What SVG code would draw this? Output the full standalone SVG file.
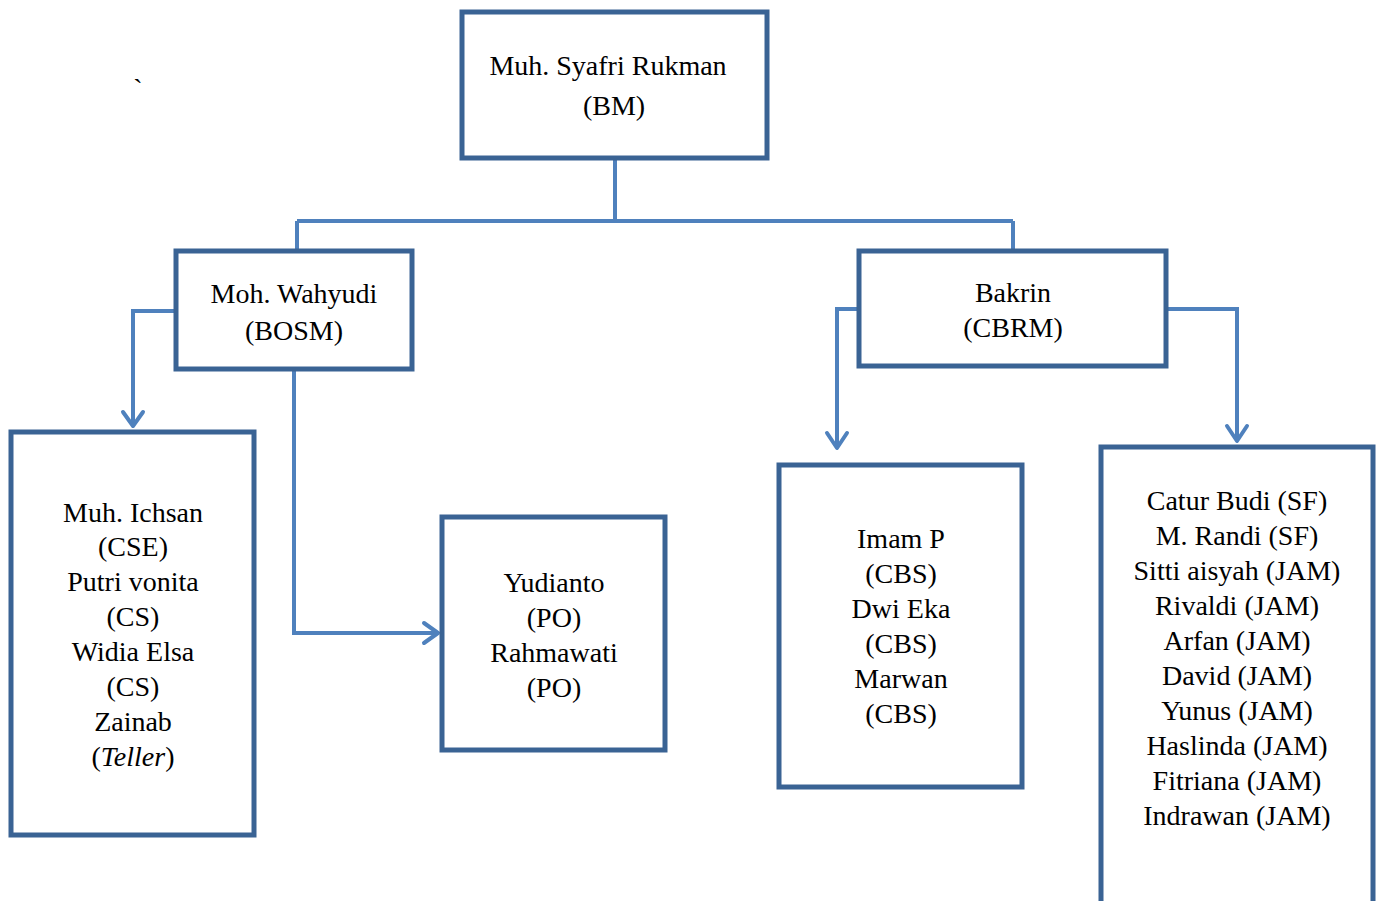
<svg xmlns="http://www.w3.org/2000/svg" width="1381" height="901" viewBox="0 0 1381 901">
<style>
.box{fill:#fff;stroke:#3a6394;stroke-width:5}
.con{fill:none;stroke:#4f81bd;stroke-width:4;stroke-linejoin:miter}
.ah{fill:none;stroke:#4f81bd;stroke-width:4;stroke-linecap:round;stroke-linejoin:round}
text{font-family:"Liberation Serif","Times New Roman",serif;font-size:28px;fill:#000;text-anchor:middle}
</style>
<rect width="1381" height="901" fill="#fff"/>
<text x="138" y="98" font-size="24">`</text>
<g id="connectors">
<path class="con" d="M615 158 V221 M297 221 H1013 M297 221 V251 M1013 221 V251"/>
<path class="con" d="M176 311 H133 V426"/>
<path class="ah" d="M123 412 L133 426 L143 412"/>
<path class="con" d="M294 369 V633 H438"/>
<path class="ah" d="M424 623 L438 633 L424 643"/>
<path class="con" d="M859 309 H837 V448"/>
<path class="ah" d="M827 433 L837 448 L847 433"/>
<path class="con" d="M1166 309 H1237 V441"/>
<path class="ah" d="M1227 426 L1237 441 L1247 426"/>
</g>
<g id="bm">
<rect class="box" x="462" y="12" width="305" height="146"/>
<text x="608" y="75">Muh. Syafri Rukman</text>
<text x="614" y="115">(BM)</text>
</g>
<g id="bosm">
<rect class="box" x="176" y="251" width="236" height="118"/>
<text x="294" y="303">Moh. Wahyudi</text>
<text x="294" y="340">(BOSM)</text>
</g>
<g id="cbrm">
<rect class="box" x="859" y="251" width="307" height="115"/>
<text x="1013" y="302">Bakrin</text>
<text x="1013" y="337">(CBRM)</text>
</g>
<g id="cs">
<rect class="box" x="11" y="432" width="243" height="403"/>
<text x="133" y="522">Muh. Ichsan</text>
<text x="133" y="556">(CSE)</text>
<text x="133" y="591">Putri vonita</text>
<text x="133" y="626">(CS)</text>
<text x="133" y="661">Widia Elsa</text>
<text x="133" y="696">(CS)</text>
<text x="133" y="731">Zainab</text>
<text x="133" y="766">(<tspan font-style="italic">Teller</tspan>)</text>
</g>
<g id="po">
<rect class="box" x="442" y="517" width="223" height="233"/>
<text x="554" y="592">Yudianto</text>
<text x="554" y="627">(PO)</text>
<text x="554" y="662">Rahmawati</text>
<text x="554" y="697">(PO)</text>
</g>
<g id="cbs">
<rect class="box" x="779" y="465" width="243" height="322"/>
<text x="901" y="548">Imam P</text>
<text x="901" y="583">(CBS)</text>
<text x="901" y="618">Dwi Eka</text>
<text x="901" y="653">(CBS)</text>
<text x="901" y="688">Marwan</text>
<text x="901" y="723">(CBS)</text>
</g>
<g id="jam">
<rect class="box" x="1101" y="447" width="272" height="470"/>
<text x="1237" y="510">Catur Budi (SF)</text>
<text x="1237" y="545">M. Randi (SF)</text>
<text x="1237" y="580">Sitti aisyah (JAM)</text>
<text x="1237" y="615">Rivaldi (JAM)</text>
<text x="1237" y="650">Arfan (JAM)</text>
<text x="1237" y="685">David (JAM)</text>
<text x="1237" y="720">Yunus (JAM)</text>
<text x="1237" y="755">Haslinda (JAM)</text>
<text x="1237" y="790">Fitriana (JAM)</text>
<text x="1237" y="825">Indrawan (JAM)</text>
</g>
</svg>
